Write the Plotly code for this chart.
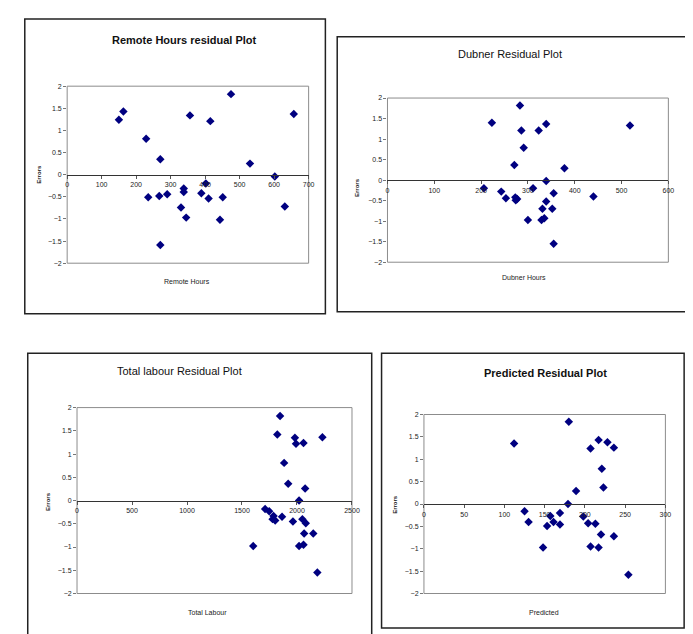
import plotly.graph_objects as go

# ---------------- data ----------------
remote_hours = [150, 163, 229, 270, 235, 267, 290, 270, 330, 338, 338, 345, 356, 389,
                402, 410, 415, 443, 451, 475, 530, 602, 631, 657]
remote_resid = [1.24, 1.43, 0.81, 0.35, -0.51, -0.48, -0.44, -1.59, -0.74, -0.31, -0.39, -0.97,
                1.34, -0.42, -0.20, -0.54, 1.21, -1.02, -0.51, 1.82, 0.25, -0.04, -0.72, 1.37]

dubner_hours = [283, 223, 286, 323, 339, 518, 291, 271, 378, 339, 206, 243, 253, 273, 274,
                277, 311, 355, 339, 331, 352, 300, 329, 335, 440, 355]
dubner_resid = [1.82, 1.40, 1.21, 1.21, 1.37, 1.33, 0.79, 0.37, 0.29, -0.02, -0.20, -0.28,
                -0.44, -0.42, -0.49, -0.46, -0.20, -0.32, -0.52, -0.70, -0.70, -0.97, -0.97,
                -0.93, -0.40, -1.55]

total_labour = [1846, 1821, 1981, 1991, 2059, 2231, 1883, 1920, 2074, 2019, 1710, 1747, 1787,
                1778, 1802, 1864, 1963, 2049, 2080, 2065, 2148, 1602, 2019, 2059, 2185]
total_resid = [1.82, 1.42, 1.35, 1.22, 1.24, 1.36, 0.81, 0.36, 0.26, 0.0, -0.18, -0.23, -0.33,
               -0.40, -0.43, -0.35, -0.45, -0.40, -0.49, -0.71, -0.71, -0.98, -0.98, -0.95, -1.55]

predicted = [180, 112, 217, 228, 236, 207, 221, 223, 189, 179, 125, 130, 157, 161, 153, 169,
             169, 198, 204, 213, 220, 236, 148, 207, 217, 254]
pred_resid = [1.84, 1.35, 1.43, 1.38, 1.26, 1.24, 0.79, 0.37, 0.29, 0.0, -0.16, -0.40, -0.27,
              -0.40, -0.49, -0.20, -0.46, -0.28, -0.43, -0.44, -0.68, -0.72, -0.97, -0.95,
              -0.97, -1.58]

titles = ["Remote Hours residual Plot", "Dubner Residual Plot",
          "Total labour Residual Plot", "Predicted Residual Plot"]
x_titles = ["Remote Hours", "Dubner Hours", "Total Labour", "Predicted"]
y_title = "Errors"
x_ranges = [[0, 700], [0, 600], [0, 2500], [0, 300]]
x_dticks = [100, 100, 500, 50]
y_tickvals = [-2, -1.5, -1, -0.5, 0, 0.5, 1, 1.5, 2]

series = [(remote_hours, remote_resid), (dubner_hours, dubner_resid),
          (total_labour, total_resid), (predicted, pred_resid)]

# ---------------- layout geometry (pixels) ----------------
W, H = 693, 634
panels = [(15, 7, 320, 305), (332, 25, 690, 303), (18, 345, 367, 632), (377, 345, 684, 623)]
plots = [(58, 75, 303, 254), (383, 87, 668, 253), (68, 400, 347, 588), (420, 407, 665, 588)]
title_pos = [(177, 28, True), (507, 42, False), (172, 363, False), (543, 365, True)]
xtitle_pos = [(180, 273), (522, 268), (200, 607), (542, 607)]
ytitle_pos = [(30, 164), (352, 177), (38, 495), (390, 498)]


def px(x):
    return x / W


def py(y):
    return 1 - y / H


FONT = "Liberation Sans, Arial, sans-serif"
fig = go.Figure()
layout = dict(width=W, height=H, margin=dict(l=0, r=0, t=0, b=0),
              paper_bgcolor="white", plot_bgcolor="white", showlegend=False,
              font=dict(family=FONT, color="#222"))
shapes, annotations = [], []

for i, ((xs, ys), (l, t, r, b)) in enumerate(zip(series, plots)):
    n = "" if i == 0 else str(i + 1)
    xa, ya = "x" + n, "y" + n
    fig.add_trace(go.Scatter(x=xs, y=ys, mode="markers", xaxis=xa, yaxis=ya,
                             marker=dict(symbol="diamond", size=6.5, color="#000080",
                                         line=dict(width=0))))
    ydom = [py(b), py(t)]
    layout["xaxis" + n] = dict(domain=[px(l), px(r)], range=x_ranges[i], dtick=x_dticks[i],
                               tick0=0, anchor="free", position=(ydom[0] + ydom[1]) / 2,
                               showgrid=False, zeroline=False, showline=True,
                               linecolor="#333", linewidth=1.3, ticks="outside", ticklen=3,
                               tickcolor="#555", tickfont=dict(size=7, family=FONT, color="#222"))
    layout["yaxis" + n] = dict(domain=ydom, range=[-2, 2], anchor=xa, tickvals=y_tickvals,
                               showgrid=False, zeroline=False, showline=False,
                               ticks="outside", ticklen=3, tickcolor="#777",
                               tickfont=dict(size=7, family=FONT, color="#222"))
    # plot area border
    shapes.append(dict(type="rect", xref=xa + " domain", yref=ya + " domain",
                       x0=0, x1=1, y0=0, y1=1, line=dict(color="#8c8c8c", width=1),
                       layer="below"))
    # panel border
    pl, pt, pr, pb = panels[i]
    shapes.append(dict(type="rect", xref="paper", yref="paper", x0=px(pl), x1=px(pr),
                       y0=py(pb), y1=py(pt), line=dict(color="#222", width=1.5)))
    tx, ty, bold = title_pos[i]
    annotations.append(dict(text=("<b>%s</b>" % titles[i]) if bold else titles[i],
                            x=px(tx), y=py(ty), xref="paper", yref="paper",
                            showarrow=False, xanchor="center", yanchor="middle",
                            font=dict(size=11, family=FONT, color="#111")))
    ax_, ay_ = xtitle_pos[i]
    annotations.append(dict(text=x_titles[i], x=px(ax_), y=py(ay_), xref="paper", yref="paper",
                            showarrow=False, xanchor="center", yanchor="middle",
                            font=dict(size=7, family=FONT, color="#222")))
    yx, yy = ytitle_pos[i]
    annotations.append(dict(text="<b>%s</b>" % y_title, x=px(yx), y=py(yy), xref="paper",
                            yref="paper", showarrow=False, textangle=-90,
                            xanchor="center", yanchor="middle",
                            font=dict(size=6, family=FONT, color="#222")))

layout["shapes"] = shapes
layout["annotations"] = annotations
fig.update_layout(**layout)
fig.write_html("out.html")
